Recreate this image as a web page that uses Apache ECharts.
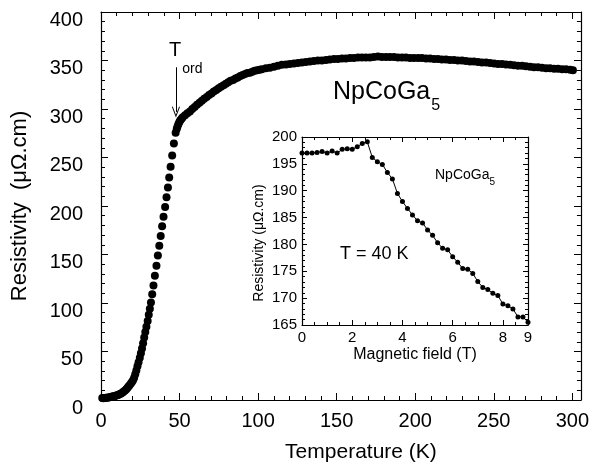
<!DOCTYPE html>
<html>
<head>
<meta charset="utf-8">
<title>NpCoGa5 resistivity</title>
<script src="https://cdn.jsdelivr.net/npm/echarts@6/dist/echarts.min.js"></script>
<style>
  html, body { margin: 0; padding: 0; background: #fff; }
  #chart { width: 592px; height: 468px; }
</style>
</head>
<body>
<div id="chart"></div>
<script>
  // main curve: temperature (K) / resistivity (µΩ.cm)
  var tempK = [0.8, 1.5, 2.2, 3.1, 3.9, 4.7, 5.5, 6.3, 7.1, 7.9, 8.8, 9.6, 10.4, 11.2, 12.0, 12.8, 13.7, 14.5, 15.3, 16.1,
    16.8, 17.5, 18.2, 19.0, 19.7, 20.4, 21.1, 21.8, 22.5, 23.2, 23.9, 24.7, 25.4, 26.1, 26.8, 27.5, 28.2, 28.9, 29.7, 30.4,
    31.1, 31.8, 32.6, 33.4, 34.3, 35.3, 36.2, 37.1, 38.0, 38.9, 39.8, 40.8, 41.7, 42.6, 43.4, 44.3, 45.3, 46.4, 47.5, 48.2,
    48.7, 49.3, 49.9, 50.5, 51.3, 52.0, 53.5, 55.0, 56.6, 58.1, 59.6, 61.1, 62.7, 64.2, 65.7, 67.3, 68.8, 70.3, 71.8, 73.4,
    74.9, 76.4, 78.0, 79.5, 81.0, 82.5, 84.1, 85.6, 87.1, 88.7, 90.2, 91.7, 93.2, 94.8, 96.3, 97.8, 99.4, 100.9, 102.4, 105.0,
    107.5, 110.1, 112.6, 115.1, 117.7, 120.2, 122.8, 125.3, 127.9, 130.4, 133.0, 135.5, 138.1, 140.6, 143.2, 145.7, 148.3, 150.8, 153.4, 155.9,
    158.5, 161.0, 163.6, 166.1, 168.6, 171.2, 173.7, 176.3, 178.8, 181.4, 183.9, 186.5, 189.0, 191.6, 194.1, 196.7, 199.2, 201.8, 204.3, 206.9,
    209.4, 212.0, 214.5, 217.0, 219.6, 222.1, 224.7, 227.2, 229.8, 232.3, 234.9, 237.4, 240.0, 242.5, 245.1, 247.6, 250.2, 252.7, 255.3, 257.8,
    260.4, 262.9, 265.4, 268.0, 270.5, 273.1, 275.6, 278.2, 280.7, 283.3, 285.8, 288.4, 290.9, 293.5, 296.0, 298.6, 300.4];
  var rhoMain = [2.0, 1.8, 2.0, 2.2, 2.4, 2.6, 2.9, 3.1, 3.5, 3.8, 4.2, 4.6, 5.0, 5.5, 6.1, 6.8, 7.7, 8.7, 9.8, 11.1,
    12.4, 13.8, 15.3, 16.9, 18.6, 20.4, 23, 26.5, 30.5, 34.8, 39, 43.5, 48.2, 53, 58.5, 64.5, 70, 75.5, 81.5, 88,
    94, 100.5, 109, 118, 128, 138.5, 149, 159, 169, 179, 189, 199, 209, 219, 229.5, 240.5, 252, 264.5, 275.5, 279.5,
    282, 284.5, 286.5, 288.5, 290, 291.5, 293.5, 295.5, 297.5, 300, 302, 304.5, 306.5, 308.5, 310.5, 312.5, 314.5, 316, 318, 319.5,
    321.5, 323, 324.5, 326, 327.5, 329, 330, 331.5, 332.5, 334, 335, 336, 337, 337.5, 338.5, 339.5, 340, 340.5, 341, 342,
    342.5, 343.5, 344.5, 345.5, 346, 346.5, 347, 347.5, 348, 348.5, 349, 349.5, 350, 350, 350.5, 351, 351.5, 351.5, 352, 352,
    352.5, 352.5, 353, 353, 353, 353, 353.5, 354, 353.5, 353.5, 353.5, 353.5, 353, 353, 353, 352.5, 352.5, 352.5, 352.5, 352,
    352, 351.5, 351.5, 351, 351, 350.5, 350.5, 350, 350, 349.5, 349, 349, 348.5, 348, 348, 347.5, 347, 346.5, 346.5, 346,
    345.5, 345, 344.5, 344.5, 344, 343.5, 343, 343, 342.5, 342, 342, 341.5, 341.5, 341, 341, 340.5, 340];

  // inset: magnetic field (T) / resistivity at T = 40 K
  var fieldT = [0, 0.2, 0.4, 0.6, 0.8, 1.0, 1.2, 1.4, 1.6, 1.8, 2.0, 2.2, 2.4, 2.6, 2.8, 3.0, 3.2, 3.4, 3.6, 3.8,
    4.0, 4.2, 4.4, 4.6, 4.8, 5.0, 5.2, 5.4, 5.6, 5.8, 6.0, 6.2, 6.4, 6.6, 6.8, 7.0, 7.2, 7.4, 7.6, 7.8,
    8.0, 8.2, 8.4, 8.6, 8.8, 9.0];
  var rhoInset = [197.0, 197.0, 197.0, 197.1, 197.3, 197.0, 197.4, 197.0, 197.7, 197.8, 197.7, 198.2, 198.8, 199.1, 196.2, 195.4, 194.9, 193.4, 192.2, 189.5,
    188.0, 186.7, 185.5, 184.4, 184.0, 182.7, 181.7, 180.3, 179.3, 179.0, 177.7, 176.7, 175.5, 175.4, 174.6, 173.1, 172.0, 171.6, 170.9, 170.5,
    168.9, 168.6, 168.0, 166.5, 166.5, 165.5];

  var mainX = [0, 305.5, 50];      // min, max, interval (frame runs a bit past 300)
  var mainY = [0, 400, 50];
  var insetX = [0, 9, 2];
  var insetY = [165, 200, 5];

  var FONT = 'Liberation Sans, Arial, sans-serif';

  var mainData = tempK.map(function (t, i) { return [t, rhoMain[i]]; });
  var insetData = fieldT.map(function (b, i) { return [b, rhoInset[i]]; });

  // one side of a framed box, ticks pointing inwards, labels off by default
  function frameAxis(range, gridIndex, position, tickLen, split) {
    return {
      type: 'value',
      gridIndex: gridIndex,
      position: position,
      min: range[0],
      max: range[1],
      interval: range[2],
      axisLine: { show: true, onZero: false, lineStyle: { color: '#000', width: 1.2 } },
      axisTick: { show: true, inside: true, length: tickLen, lineStyle: { color: '#000', width: 1 } },
      minorTick: { show: true, splitNumber: split, length: Math.round(tickLen / 2), lineStyle: { color: '#000', width: 1 } },
      splitLine: { show: false },
      axisLabel: { show: false }
    };
  }

  var xAxes = [
    frameAxis(mainX, 0, 'bottom', 7, 5),
    frameAxis(mainX, 0, 'top', 7, 5),
    frameAxis(insetX, 1, 'bottom', 5, 4),
    frameAxis(insetX, 1, 'top', 5, 4)
  ];
  var yAxes = [
    frameAxis(mainY, 0, 'left', 7, 5),
    frameAxis(mainY, 0, 'right', 7, 5),
    frameAxis(insetY, 1, 'left', 5, 5),
    frameAxis(insetY, 1, 'right', 5, 5)
  ];

  // labels + titles
  xAxes[0].axisLabel = {
    show: true, margin: 11, color: '#000', fontSize: 20, fontFamily: FONT,
    formatter: function (v) { return v % 50 === 0 ? String(v) : ''; }
  };
  xAxes[0].name = 'Temperature (K)';
  xAxes[0].nameLocation = 'middle';
  xAxes[0].nameGap = 42;
  xAxes[0].nameTextStyle = { color: '#000', fontSize: 21, fontFamily: FONT, padding: [0, 0, 0, 40] };

  // the reference prints these labels a little below their ticks
  yAxes[0].axisLabel = {
    show: true, margin: 18, color: '#000', fontSize: 20, fontFamily: FONT,
    verticalAlign: 'top', lineHeight: 16
  };
  yAxes[0].name = 'Resistivity  (\u03bc\u03a9.cm)';
  yAxes[0].nameLocation = 'middle';
  yAxes[0].nameGap = 70;
  yAxes[0].nameTextStyle = { color: '#000', fontSize: 22, fontFamily: FONT };

  xAxes[2].axisLabel = { show: true, margin: 5, color: '#000', fontSize: 15, fontFamily: FONT };
  xAxes[2].name = 'Magnetic field (T)';
  xAxes[2].nameLocation = 'middle';
  xAxes[2].nameGap = 22;
  xAxes[2].nameTextStyle = { color: '#000', fontSize: 16, fontFamily: FONT };

  yAxes[2].axisLabel = { show: true, margin: 5, color: '#000', fontSize: 15, fontFamily: FONT };
  yAxes[2].name = 'Resistivity (\u03bc\u03a9.cm)';
  yAxes[2].nameLocation = 'middle';
  yAxes[2].nameGap = 36;
  yAxes[2].nameTextStyle = { color: '#000', fontSize: 14, fontFamily: FONT, padding: [0, 24, 0, 0] };

  // width of a string, to put subscripts right after their base text
  var ctx = document.createElement('canvas').getContext('2d');
  function textWidth(str, size) {
    ctx.font = size + 'px ' + FONT;
    return ctx.measureText(str).width;
  }

  function label(str, x, y, size) {
    return {
      type: 'text', x: x, y: y, silent: true,
      style: { text: str, fill: '#000', font: size + 'px ' + FONT, textAlign: 'left', textVerticalAlign: 'middle' }
    };
  }

  var graphics = [
    label('T', 169, 50, 20),
    label('ord', 169 + textWidth('T', 20) + 1, 69, 14),
    label('NpCoGa', 333, 92, 25),
    label('5', 334 + textWidth('NpCoGa', 25), 106, 16),
    label('NpCoGa', 435, 175, 14),
    label('5', 435 + textWidth('NpCoGa', 14), 182, 10),
    label('T = 40 K', 340, 254, 18)
  ];

  var option = {
    animation: false,
    backgroundColor: '#fff',
    grid: [
      { left: 101, top: 12, width: 481, height: 388 },
      { left: 302, top: 137, width: 226, height: 188, backgroundColor: '#fff', show: true, borderWidth: 0 }
    ],
    xAxis: xAxes,
    yAxis: yAxes,
    graphic: graphics,
    series: [
      {
        type: 'scatter',
        xAxisIndex: 0,
        yAxisIndex: 0,
        symbolSize: 8,
        itemStyle: { color: '#000', opacity: 1 },
        data: mainData,
        // T_ord arrow
        markLine: {
          silent: true,
          symbol: ['none', 'path://M5,0 L10,12 L9,12.6 L5,3 L1,12.6 L0,12 Z'],
          symbolSize: [8, 11],
          label: { show: false },
          lineStyle: { color: '#000', width: 1, type: 'solid', opacity: 1 },
          data: [[{ coord: [47.7, 343] }, { coord: [47.7, 297] }]]
        }
      },
      {
        type: 'line',
        xAxisIndex: 2,
        yAxisIndex: 2,
        symbol: 'circle',
        symbolSize: 5,
        itemStyle: { color: '#000', opacity: 1 },
        lineStyle: { color: '#000', width: 1 },
        data: insetData
      }
    ]
  };

  var myChart = echarts.init(document.getElementById('chart'));
  myChart.setOption(option);
</script>
</body>
</html>
